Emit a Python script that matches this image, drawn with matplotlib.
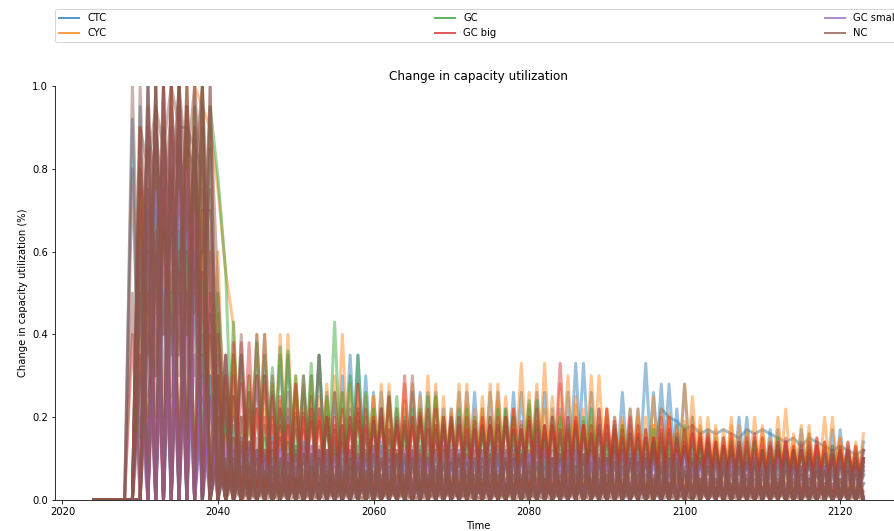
import matplotlib.pyplot as plt
from matplotlib.lines import Line2D
import numpy as np

YEARS = np.arange(2024, 2124)

# yearly change in capacity utilization, one list per run (2024 ... 2123)
CTC = [
    [0, 0, 0, 0, 0, .92, 0, 1.0, 0, .70,
     0, .85, 0, .60, 0, .45, 0, .35, 0, .35,
     0, .30, 0, .26, 0, .35, 0, .26, 0, .35,
     0, .26, 0, .35, 0, .30, 0, .26, 0, .22,
     0, .26, 0, .26, 0, .22, 0, .26, 0, .26,
     0, .26, 0, .22, 0, .26, 0, .26, 0, .22,
     0, .26, 0, .33, 0, .22, 0, .20, 0, .22,
     0, .33, 0, .28, 0, .22, 0, .20, 0, .17,
     0, .15, 0, .20, 0, .15, 0, .17, 0, .14,
     0, .17, 0, .13, 0, .17, 0, .12, 0, .14],
    [0, 0, 0, 0, 0, 0, .95, 0, .80, 0,
     1.0, 0, .70, 0, .55, 0, .35, 0, .35, 0,
     .26, 0, .30, 0, .35, 0, .26, 0, .30, 0,
     .26, 0, .30, 0, .35, 0, .26, 0, .26, 0,
     .22, 0, .26, 0, .26, 0, .22, 0, .26, 0,
     .22, 0, .26, 0, .26, 0, .22, 0, .26, 0,
     .22, 0, .33, 0, .26, 0, .20, 0, .26, 0,
     .22, 0, .26, 0, .28, 0, .28, 0, .17, 0,
     .15, 0, .14, 0, .20, 0, .13, 0, .17, 0,
     .12, 0, .16, 0, .13, 0, .17, 0, .12, 0],
    [0, 0, 0, 0, 0, 0, 0, .60, 0, .90,
     0, .70, 0, .80, 0, .30, 0, .20, 0, .15,
     0, .12, 0, .15, 0, .10, 0, .14, 0, .12,
     0, .15, 0, .12, 0, .10, 0, .14, 0, .11,
     0, .12, 0, .10, 0, .15, 0, .12, 0, .10,
     0, .14, 0, .10, 0, .12, 0, .15, 0, .10,
     0, .12, 0, .15, 0, .10, 0, .13, 0, .12,
     0, .10, 0, .14, 0, .12, 0, .10, 0, .13,
     0, .10, 0, .12, 0, .09, 0, .11, 0, .10,
     0, .12, 0, .08, 0, .10, 0, .11, 0, .09],
    [0, 0, 0, 0, 0, 0, .50, 0, 1.0, 0,
     .75, 0, .95, 0, .40, 0, .25, 0, .18, 0,
     .14, 0, .10, 0, .15, 0, .12, 0, .10, 0,
     .12, 0, .14, 0, .10, 0, .13, 0, .11, 0,
     .10, 0, .13, 0, .12, 0, .10, 0, .14, 0,
     .12, 0, .10, 0, .13, 0, .11, 0, .12, 0,
     .10, 0, .12, 0, .14, 0, .10, 0, .12, 0,
     .11, 0, .13, 0, .10, 0, .12, 0, .09, 0,
     .10, 0, .11, 0, .09, 0, .12, 0, .10, 0,
     .09, 0, .10, 0, .08, 0, .11, 0, .09, 0],
    [0, 0, 0, 0, 0, 0, .35, 0, .65, 0,
     .55, 0, .80, 0, .25, 0, .14, 0, .10, 0,
     .09, 0, .11, 0, .08, 0, .10, 0, .09, 0,
     .10, 0, .08, 0, .09, 0, .11, 0, .08, 0,
     .09, 0, .10, 0, .08, 0, .09, 0, .10, 0,
     .08, 0, .09, 0, .10, 0, .08, 0, .09, 0,
     .10, 0, .08, 0, .09, 0, .10, 0, .08, 0,
     .09, 0, .10, .22, .20, .19, .17, .18, .16, .17,
     .16, .17, .16, .15, .17, .16, .17, .16, .15, .14,
     .15, .13, .15, .14, .13, .12, .13, .12, .11, .12],
    [0, 0, 0, 0, 0, 0, 0, .75, 0, .55,
     0, .95, 0, .50, 0, .25, 0, .22, 0, .20,
     0, .22, 0, .18, 0, .20, 0, .17, 0, .22,
     0, .18, 0, .20, 0, .17, 0, .19, 0, .18,
     0, .20, 0, .17, 0, .19, 0, .18, 0, .17,
     0, .18, 0, .20, 0, .17, 0, .19, 0, .18,
     0, .17, 0, .19, 0, .18, 0, .16, 0, .18,
     0, .17, 0, .15, 0, .18, 0, .16, 0, .14,
     0, .13, 0, .15, 0, .14, 0, .12, 0, .13,
     0, .12, 0, .14, 0, .11, 0, .13, 0, .12],
]

CYC = [
    [0, 0, 0, 0, 0, 0, .70, 0, .90, 0,
     1.0, 0, .95, 0, .90, 0, .60, 0, .35, 0,
     .30, 0, .40, 0, .40, 0, .28, 0, .30, 0,
     .28, 0, .40, 0, .28, 0, .25, 0, .28, 0,
     .28, 0, .25, 0, .28, 0, .22, 0, .28, 0,
     .25, 0, .28, 0, .22, 0, .26, 0, .33, 0,
     .28, 0, .25, 0, .30, 0, .22, 0, .20, 0,
     .22, 0, .25, 0, .20, 0, .28, 0, .20, 0,
     .18, 0, .20, 0, .17, 0, .18, 0, .20, 0,
     .16, 0, .18, 0, .20, 0, .15, 0, .14, 0],
    [0, 0, 0, 0, 0, 0, 0, .85, 0, 1.0,
     0, .90, 0, 1.0, .95, .90, .75, .55, .42, 0,
     0, .40, 0, .28, 0, .40, 0, .28, 0, .25,
     0, .30, 0, .28, 0, .25, 0, .28, 0, .22,
     0, .28, 0, .30, 0, .25, 0, .28, 0, .22,
     0, .28, 0, .25, 0, .33, 0, .28, 0, .25,
     0, .30, 0, .22, 0, .30, 0, .20, 0, .22,
     0, .20, 0, .22, 0, .18, 0, .25, 0, .20,
     0, .17, 0, .18, 0, .20, 0, .15, 0, .22,
     0, .18, 0, .15, 0, .20, 0, .14, 0, .16],
    [0, 0, 0, 0, 0, 0, .40, 0, .80, 0,
     .60, 0, 1.0, 0, .70, 0, .30, 0, .25, 0,
     .20, 0, .22, 0, .18, 0, .20, 0, .22, 0,
     .20, 0, .18, 0, .22, 0, .20, 0, .18, 0,
     .18, 0, .20, 0, .17, 0, .20, 0, .18, 0,
     .20, 0, .17, 0, .20, 0, .18, 0, .17, 0,
     .17, 0, .20, 0, .18, 0, .16, 0, .18, 0,
     .16, 0, .18, 0, .15, 0, .17, 0, .15, 0,
     .14, 0, .15, 0, .13, 0, .15, 0, .14, 0,
     .13, 0, .12, 0, .14, 0, .12, 0, .11, 0],
    [0, 0, 0, 0, 0, 0, 0, .50, 0, .75,
     0, 1.0, 0, .85, 0, .40, 0, .28, 0, .20,
     0, .22, 0, .20, 0, .18, 0, .22, 0, .20,
     0, .18, 0, .20, 0, .17, 0, .20, 0, .18,
     0, .20, 0, .18, 0, .20, 0, .17, 0, .20,
     0, .18, 0, .20, 0, .17, 0, .19, 0, .16,
     0, .17, 0, .18, 0, .20, 0, .16, 0, .17,
     0, .16, 0, .15, 0, .17, 0, .20, 0, .15,
     0, .14, 0, .13, 0, .15, 0, .13, 0, .14,
     0, .12, 0, .13, 0, .11, 0, .12, 0, .10],
    [0, 0, 0, 0, 0, 0, .90, 0, .60, 0,
     .80, 0, .55, 0, 1.0, 0, .45, 0, .30, 0,
     .26, 0, .28, 0, .24, 0, .30, 0, .26, 0,
     .24, 0, .26, 0, .22, 0, .25, 0, .22, 0,
     .24, 0, .22, 0, .25, 0, .21, 0, .23, 0,
     .22, 0, .24, 0, .21, 0, .23, 0, .22, 0,
     .21, 0, .23, 0, .20, 0, .22, 0, .19, 0,
     .20, 0, .18, 0, .21, 0, .19, 0, .18, 0,
     .17, 0, .18, 0, .16, 0, .17, 0, .15, 0,
     .15, 0, .16, 0, .14, 0, .15, 0, .13, 0],
]

GC = [
    [0, 0, 0, 0, 0, 0, .80, 0, 1.0, 0,
     .85, 0, .90, 0, 1.0, 0, .50, 0, .43, 0,
     .30, 0, .35, 0, .37, 0, .30, 0, .33, 0,
     .25, 0, .26, 0, .35, 0, .22, 0, .25, 0,
     .20, 0, .22, 0, .25, 0, .20, 0, .22, 0,
     .18, 0, .22, 0, .20, 0, .24, 0, .18, 0,
     .20, 0, .18, 0, .22, 0, .15, 0, .18, 0,
     .15, 0, .17, 0, .14, 0, .18, 0, .13, 0,
     .12, 0, .14, 0, .13, 0, .12, 0, .15, 0,
     .12, 0, .13, 0, .11, 0, .12, 0, .10, 0],
    [0, 0, 0, 0, 0, 0, 0, .70, 0, .90,
     0, 1.0, 0, .95, 0, .95, .78, .55, 0, .35,
     0, .38, 0, .32, 0, .36, 0, .30, 0, .35,
     0, .43, 0, .30, 0, .26, 0, .22, 0, .25,
     0, .22, 0, .25, 0, .20, 0, .22, 0, .20,
     0, .20, 0, .22, 0, .18, 0, .24, 0, .20,
     0, .18, 0, .20, 0, .16, 0, .18, 0, .15,
     0, .14, 0, .16, 0, .15, 0, .13, 0, .14,
     0, .13, 0, .12, 0, .14, 0, .11, 0, .12,
     0, .12, 0, .10, 0, .13, 0, .11, 0, .10],
    [0, 0, 0, 0, 0, 0, .55, 0, .70, 0,
     .90, 0, .60, 0, .35, 0, .20, 0, .15, 0,
     .12, 0, .15, 0, .10, 0, .13, 0, .11, 0,
     .10, 0, .12, 0, .14, 0, .10, 0, .12, 0,
     .11, 0, .10, 0, .12, 0, .09, 0, .11, 0,
     .10, 0, .12, 0, .10, 0, .11, 0, .09, 0,
     .11, 0, .09, 0, .12, 0, .10, 0, .10, 0,
     .09, 0, .11, 0, .10, 0, .08, 0, .10, 0,
     .08, 0, .10, 0, .09, 0, .08, 0, .09, 0,
     .08, 0, .09, 0, .07, 0, .08, 0, .07, 0],
    [0, 0, 0, 0, 0, 0, 0, .45, 0, .80,
     0, .65, 0, .90, 0, .30, 0, .18, 0, .13,
     0, .12, 0, .10, 0, .14, 0, .11, 0, .10,
     0, .13, 0, .10, 0, .12, 0, .10, 0, .11,
     0, .10, 0, .12, 0, .09, 0, .11, 0, .10,
     0, .11, 0, .10, 0, .12, 0, .09, 0, .10,
     0, .10, 0, .11, 0, .09, 0, .10, 0, .09,
     0, .10, 0, .08, 0, .10, 0, .09, 0, .08,
     0, .09, 0, .08, 0, .10, 0, .08, 0, .09,
     0, .07, 0, .08, 0, .07, 0, .08, 0, .07],
    [0, 0, 0, 0, 0, 0, .65, 0, .85, 0,
     .50, 0, .75, 0, .60, 0, .30, 0, .25, 0,
     .20, 0, .18, 0, .22, 0, .17, 0, .20, 0,
     .18, 0, .16, 0, .19, 0, .17, 0, .15, 0,
     .17, 0, .15, 0, .18, 0, .16, 0, .15, 0,
     .16, 0, .15, 0, .17, 0, .14, 0, .16, 0,
     .15, 0, .14, 0, .16, 0, .13, 0, .14, 0,
     .13, 0, .14, 0, .12, 0, .13, 0, .12, 0,
     .11, 0, .12, 0, .10, 0, .11, 0, .12, 0,
     .10, 0, .11, 0, .09, 0, .10, 0, .09, 0],
]

GC_BIG = [
    [0, 0, 0, 0, 0, 0, .90, 0, 1.0, 0,
     .80, 0, .95, 0, .70, 0, .40, 0, .38, 0,
     .38, 0, .30, 0, .25, 0, .28, 0, .22, 0,
     .20, 0, .22, 0, .28, 0, .20, 0, .25, 0,
     .30, 0, .20, 0, .22, 0, .18, 0, .20, 0,
     .20, 0, .18, 0, .22, 0, .20, 0, .18, 0,
     .33, 0, .20, 0, .18, 0, .22, 0, .15, 0,
     .18, 0, .15, 0, .20, 0, .17, 0, .15, 0,
     .14, 0, .16, 0, .12, 0, .15, 0, .13, 0,
     .12, 0, .14, 0, .11, 0, .13, 0, .10, 0],
    [0, 0, 0, 0, 0, 0, 0, .95, 0, .85,
     0, 1.0, 0, .80, 0, .60, 0, .35, 0, .38,
     0, .30, 0, .25, 0, .22, 0, .20, 0, .22,
     0, .20, 0, .18, 0, .22, 0, .20, 0, .18,
     0, .20, 0, .22, 0, .18, 0, .20, 0, .17,
     0, .18, 0, .20, 0, .17, 0, .22, 0, .20,
     0, .20, 0, .18, 0, .22, 0, .17, 0, .20,
     0, .17, 0, .20, 0, .15, 0, .18, 0, .16,
     0, .15, 0, .13, 0, .16, 0, .14, 0, .15,
     0, .13, 0, .15, 0, .12, 0, .14, 0, .10],
    [0, 0, 0, 0, 0, 0, .35, 0, .60, 0,
     .90, 0, .50, 0, .30, 0, .20, 0, .15, 0,
     .14, 0, .12, 0, .15, 0, .11, 0, .13, 0,
     .12, 0, .14, 0, .11, 0, .13, 0, .12, 0,
     .13, 0, .11, 0, .14, 0, .12, 0, .11, 0,
     .12, 0, .13, 0, .11, 0, .12, 0, .13, 0,
     .11, 0, .13, 0, .12, 0, .10, 0, .12, 0,
     .10, 0, .12, 0, .11, 0, .13, 0, .10, 0,
     .10, 0, .11, 0, .09, 0, .10, 0, .11, 0,
     .09, 0, .10, 0, .08, 0, .09, 0, .08, 0],
    [0, 0, 0, 0, 0, 0, 0, .50, 0, .75,
     0, .95, 0, .70, 0, .25, 0, .16, 0, .14,
     0, .12, 0, .14, 0, .11, 0, .13, 0, .12,
     0, .11, 0, .13, 0, .12, 0, .10, 0, .12,
     0, .12, 0, .10, 0, .13, 0, .11, 0, .12,
     0, .10, 0, .12, 0, .11, 0, .13, 0, .10,
     0, .12, 0, .10, 0, .11, 0, .12, 0, .10,
     0, .11, 0, .10, 0, .12, 0, .09, 0, .11,
     0, .09, 0, .11, 0, .10, 0, .09, 0, .10,
     0, .08, 0, .09, 0, .10, 0, .08, 0, .09],
    [0, 0, 0, 0, 0, 0, .75, 0, .45, 0,
     1.0, 0, .80, 0, .55, 0, .30, 0, .25, 0,
     .22, 0, .20, 0, .18, 0, .21, 0, .19, 0,
     .20, 0, .18, 0, .21, 0, .19, 0, .17, 0,
     .19, 0, .21, 0, .18, 0, .20, 0, .17, 0,
     .18, 0, .20, 0, .17, 0, .19, 0, .18, 0,
     .17, 0, .19, 0, .16, 0, .18, 0, .17, 0,
     .16, 0, .15, 0, .17, 0, .14, 0, .16, 0,
     .14, 0, .13, 0, .15, 0, .12, 0, .14, 0,
     .13, 0, .12, 0, .14, 0, .12, 0, .13, 0],
    [0, 0, 0, 0, 0, .40, 0, .70, 0, 1.0,
     0, .55, 0, .65, 0, .50, 0, .30, 0, .28,
     0, .22, 0, .20, 0, .18, 0, .21, 0, .19,
     0, .17, 0, .20, 0, .18, 0, .22, 0, .19,
     0, .18, 0, .17, 0, .20, 0, .18, 0, .19,
     0, .20, 0, .18, 0, .19, 0, .17, 0, .18,
     0, .16, 0, .18, 0, .17, 0, .19, 0, .16,
     0, .15, 0, .17, 0, .14, 0, .16, 0, .15,
     0, .13, 0, .14, 0, .12, 0, .13, 0, .14,
     0, .12, 0, .13, 0, .11, 0, .12, 0, .12],
]

GC_SMALL = [
    [0, 0, 0, 0, 0, 0, .60, 0, .90, 0,
     .70, 0, .50, 0, .30, 0, .15, 0, .13, 0,
     .12, 0, .10, 0, .12, 0, .09, 0, .11, 0,
     .10, 0, .09, 0, .11, 0, .10, 0, .08, 0,
     .09, 0, .10, 0, .08, 0, .09, 0, .10, 0,
     .08, 0, .10, 0, .09, 0, .11, 0, .08, 0,
     .09, 0, .08, 0, .10, 0, .09, 0, .08, 0,
     .08, 0, .09, 0, .07, 0, .09, 0, .08, 0,
     .07, 0, .08, 0, .07, 0, .08, 0, .07, 0,
     .07, 0, .06, 0, .08, 0, .06, 0, .07, 0],
    [0, 0, 0, 0, 0, 0, 0, .40, 0, 1.0,
     0, .80, 0, .60, 0, .25, 0, .14, 0, .12,
     0, .11, 0, .09, 0, .10, 0, .12, 0, .09,
     0, .10, 0, .08, 0, .11, 0, .09, 0, .10,
     0, .08, 0, .10, 0, .09, 0, .08, 0, .10,
     0, .09, 0, .08, 0, .10, 0, .09, 0, .08,
     0, .10, 0, .09, 0, .08, 0, .10, 0, .09,
     0, .08, 0, .07, 0, .09, 0, .08, 0, .07,
     0, .07, 0, .08, 0, .06, 0, .07, 0, .08,
     0, .06, 0, .07, 0, .06, 0, .07, 0, .06],
    [0, 0, 0, 0, 0, 0, .30, 0, .50, 0,
     .90, 0, .40, 0, .20, 0, .10, 0, .09, 0,
     .07, 0, .08, 0, .06, 0, .08, 0, .07, 0,
     .06, 0, .07, 0, .08, 0, .06, 0, .07, 0,
     .07, 0, .06, 0, .07, 0, .08, 0, .06, 0,
     .06, 0, .07, 0, .06, 0, .07, 0, .06, 0,
     .07, 0, .06, 0, .08, 0, .06, 0, .07, 0,
     .06, 0, .05, 0, .06, 0, .07, 0, .05, 0,
     .05, 0, .06, 0, .05, 0, .06, 0, .05, 0,
     .05, 0, .04, 0, .05, 0, .04, 0, .05, 0],
    [0, 0, 0, 0, 0, 0, 0, .70, 0, .50,
     0, 1.0, 0, .35, 0, .15, 0, .10, 0, .08,
     0, .07, 0, .06, 0, .07, 0, .05, 0, .06,
     0, .06, 0, .05, 0, .07, 0, .06, 0, .05,
     0, .05, 0, .06, 0, .05, 0, .07, 0, .06,
     0, .06, 0, .05, 0, .06, 0, .05, 0, .06,
     0, .05, 0, .07, 0, .05, 0, .06, 0, .05,
     0, .06, 0, .05, 0, .04, 0, .06, 0, .05,
     0, .04, 0, .05, 0, .04, 0, .05, 0, .04,
     0, .05, 0, .04, 0, .04, 0, .05, 0, .04],
    [0, 0, 0, 0, 0, 0, 0, .85, 0, .60,
     0, .50, 0, .70, 0, .30, 0, .12, 0, .10,
     0, .12, 0, .10, 0, .11, 0, .09, 0, .12,
     0, .10, 0, .11, 0, .09, 0, .12, 0, .10,
     0, .11, 0, .09, 0, .10, 0, .12, 0, .09,
     0, .10, 0, .12, 0, .09, 0, .11, 0, .10,
     0, .09, 0, .11, 0, .10, 0, .09, 0, .11,
     0, .10, 0, .09, 0, .11, 0, .08, 0, .10,
     0, .09, 0, .08, 0, .10, 0, .09, 0, .08,
     0, .08, 0, .09, 0, .07, 0, .08, 0, .08],
    [0, 0, 0, 0, 0, 0, .20, 0, .75, 0,
     .45, 0, .80, 0, .35, 0, .15, 0, .12, 0,
     .13, 0, .11, 0, .12, 0, .10, 0, .13, 0,
     .11, 0, .12, 0, .10, 0, .12, 0, .11, 0,
     .12, 0, .10, 0, .11, 0, .13, 0, .10, 0,
     .11, 0, .12, 0, .10, 0, .11, 0, .12, 0,
     .10, 0, .12, 0, .11, 0, .10, 0, .11, 0,
     .11, 0, .09, 0, .10, 0, .11, 0, .09, 0,
     .09, 0, .10, 0, .09, 0, .08, 0, .10, 0,
     .08, 0, .09, 0, .08, 0, .09, 0, .07, 0],
]

NC = [
    [0, 0, 0, 0, 0, 1.0, .30, 1.0, .45, 1.0,
     .25, 1.0, .40, .90, .30, 1.0, 0, .35, 0, .40,
     0, .40, 0, .30, 0, .26, 0, .30, 0, .35,
     0, .26, 0, .22, 0, .20, 0, .22, 0, .20,
     0, .30, 0, .20, 0, .18, 0, .20, 0, .17,
     0, .18, 0, .20, 0, .16, 0, .18, 0, .15,
     0, .20, 0, .15, 0, .18, 0, .14, 0, .16,
     0, .15, 0, .13, 0, .16, 0, .14, 0, .12,
     0, .12, 0, .14, 0, .11, 0, .13, 0, .12,
     0, .14, 0, .11, 0, .13, 0, .12, 0, .10],
    [0, 0, 0, 0, 0, 0, 1.0, .35, 1.0, .20,
     1.0, .45, 1.0, .30, 1.0, 0, .30, 0, .20, 0,
     .14, 0, .12, 0, .10, 0, .13, 0, .11, 0,
     .12, 0, .10, 0, .13, 0, .11, 0, .10, 0,
     .11, 0, .12, 0, .10, 0, .12, 0, .09, 0,
     .10, 0, .11, 0, .12, 0, .09, 0, .11, 0,
     .12, 0, .10, 0, .09, 0, .11, 0, .10, 0,
     .09, 0, .11, 0, .10, 0, .08, 0, .10, 0,
     .09, 0, .08, 0, .10, 0, .09, 0, .08, 0,
     .08, 0, .09, 0, .07, 0, .08, 0, .08, 0],
    [0, 0, 0, 0, 0, 0, .50, .90, .75, .80,
     .70, 1.0, .80, 1.0, .70, .70, .40, .20, 0, .12,
     0, .10, 0, .08, 0, .09, 0, .07, 0, .10,
     0, .08, 0, .09, 0, .07, 0, .10, 0, .08,
     0, .09, 0, .07, 0, .08, 0, .10, 0, .07,
     0, .08, 0, .10, 0, .07, 0, .09, 0, .08,
     0, .07, 0, .09, 0, .08, 0, .07, 0, .09,
     0, .08, 0, .07, 0, .09, 0, .07, 0, .08,
     0, .07, 0, .08, 0, .06, 0, .07, 0, .08,
     0, .06, 0, .07, 0, .08, 0, .06, 0, .07],
    [0, 0, 0, 0, 0, 0, .80, .60, .90, .70,
     .95, .75, .85, .80, 1.0, .50, .15, 0, .10, 0,
     .08, 0, .06, 0, .07, 0, .05, 0, .08, 0,
     .06, 0, .07, 0, .05, 0, .08, 0, .06, 0,
     .07, 0, .05, 0, .08, 0, .06, 0, .07, 0,
     .05, 0, .07, 0, .06, 0, .08, 0, .05, 0,
     .07, 0, .06, 0, .05, 0, .07, 0, .06, 0,
     .06, 0, .05, 0, .07, 0, .06, 0, .05, 0,
     .05, 0, .06, 0, .05, 0, .06, 0, .05, 0,
     .06, 0, .05, 0, .06, 0, .05, 0, .06, 0],
    [0, 0, 0, 0, 0, 0, 0, .60, 0, .70,
     0, .50, 0, .90, 0, .40, 0, .10, 0, .08,
     0, .05, 0, .04, 0, .06, 0, .05, 0, .04,
     0, .05, 0, .06, 0, .04, 0, .05, 0, .06,
     0, .04, 0, .05, 0, .06, 0, .04, 0, .05,
     0, .06, 0, .04, 0, .05, 0, .06, 0, .04,
     0, .05, 0, .06, 0, .04, 0, .05, 0, .04,
     0, .04, 0, .05, 0, .06, 0, .04, 0, .05,
     0, .05, 0, .04, 0, .05, 0, .04, 0, .05,
     0, .04, 0, .05, 0, .04, 0, .05, 0, .04],
    [0, 0, 0, 0, 0, 0, .50, 0, .65, 0,
     .80, 0, .60, 0, .75, 0, .12, 0, .07, 0,
     .03, 0, .04, 0, .03, 0, .05, 0, .03, 0,
     .04, 0, .03, 0, .05, 0, .03, 0, .04, 0,
     .03, 0, .04, 0, .03, 0, .04, 0, .03, 0,
     .04, 0, .03, 0, .04, 0, .03, 0, .05, 0,
     .03, 0, .04, 0, .03, 0, .04, 0, .03, 0,
     .04, 0, .03, 0, .04, 0, .02, 0, .04, 0,
     .03, 0, .04, 0, .03, 0, .03, 0, .04, 0,
     .02, 0, .03, 0, .04, 0, .03, 0, .02, 0],
    [0, 0, 0, 0, 0, .80, .15, 1.0, .30, .70,
     .40, .95, .20, 1.0, .35, .85, 0, .25, 0, .15,
     0, .10, 0, .12, 0, .09, 0, .11, 0, .10,
     0, .12, 0, .10, 0, .11, 0, .09, 0, .12,
     0, .10, 0, .11, 0, .12, 0, .10, 0, .09,
     0, .11, 0, .09, 0, .10, 0, .12, 0, .10,
     0, .09, 0, .11, 0, .10, 0, .09, 0, .11,
     0, .10, 0, .09, 0, .08, 0, .10, 0, .09,
     0, .08, 0, .09, 0, .08, 0, .09, 0, .07,
     0, .08, 0, .07, 0, .09, 0, .07, 0, .08],
    [0, 0, 0, 0, 0, 0, .90, .80, .95, .85,
     1.0, .90, .90, .85, .80, .60, .20, 0, .12, 0,
     .09, 0, .07, 0, .10, 0, .08, 0, .06, 0,
     .08, 0, .06, 0, .09, 0, .07, 0, .08, 0,
     .06, 0, .08, 0, .07, 0, .09, 0, .06, 0,
     .08, 0, .06, 0, .09, 0, .07, 0, .08, 0,
     .06, 0, .08, 0, .07, 0, .06, 0, .08, 0,
     .07, 0, .06, 0, .08, 0, .07, 0, .06, 0,
     .06, 0, .07, 0, .06, 0, .07, 0, .06, 0,
     .05, 0, .06, 0, .07, 0, .05, 0, .06, 0],
    [0, 0, 0, 0, 0, .50, 0, .85, .20, 1.0,
     .35, .60, .15, .95, 0, 1.0, 0, .30, 0, .20,
     0, .15, 0, .12, 0, .14, 0, .11, 0, .13,
     0, .14, 0, .12, 0, .15, 0, .13, 0, .11,
     0, .13, 0, .14, 0, .12, 0, .11, 0, .13,
     0, .12, 0, .13, 0, .11, 0, .14, 0, .12,
     0, .13, 0, .11, 0, .12, 0, .13, 0, .10,
     0, .11, 0, .12, 0, .10, 0, .11, 0, .12,
     0, .10, 0, .11, 0, .09, 0, .10, 0, .11,
     0, .09, 0, .10, 0, .11, 0, .09, 0, .10],
    [0, 0, 0, 0, 0, 0, .70, .25, .95, .40,
     .65, .30, 1.0, .50, .95, 0, .40, 0, .30, 0,
     .26, 0, .40, 0, .22, 0, .20, 0, .25, 0,
     .20, 0, .18, 0, .22, 0, .19, 0, .17, 0,
     .18, 0, .20, 0, .17, 0, .19, 0, .16, 0,
     .17, 0, .18, 0, .16, 0, .18, 0, .15, 0,
     .16, 0, .17, 0, .15, 0, .16, 0, .14, 0,
     .15, 0, .14, 0, .16, 0, .13, 0, .14, 0,
     .13, 0, .12, 0, .14, 0, .12, 0, .13, 0,
     .12, 0, .11, 0, .12, 0, .10, 0, .11, 0],
    [0, 0, 0, 0, 0, 0, .30, .20, .55, .40,
     .70, .35, .50, .45, .90, 0, .10, 0, .04, 0,
     .02, 0, .03, 0, .02, 0, .01, 0, .02, 0,
     .03, 0, .02, 0, .01, 0, .02, 0, .03, 0,
     .02, 0, .01, 0, .02, 0, .03, 0, .02, 0,
     .01, 0, .02, 0, .03, 0, .02, 0, .01, 0,
     .02, 0, .03, 0, .02, 0, .01, 0, .02, 0,
     .03, 0, .02, 0, .01, 0, .02, 0, .03, 0,
     .02, 0, .01, 0, .02, 0, .03, 0, .02, 0,
     .01, 0, .02, 0, .03, 0, .02, 0, .01, 0],
    [0, 0, 0, 0, 0, 0, 0, .40, .30, .65,
     .50, .85, .40, .55, .60, .75, 0, .08, 0, .03,
     0, .02, 0, .01, 0, .03, 0, .02, 0, .01,
     0, .02, 0, .03, 0, .01, 0, .02, 0, .03,
     0, .01, 0, .02, 0, .03, 0, .02, 0, .01,
     0, .03, 0, .02, 0, .01, 0, .02, 0, .03,
     0, .02, 0, .01, 0, .03, 0, .02, 0, .02,
     0, .01, 0, .03, 0, .02, 0, .01, 0, .02,
     0, .03, 0, .02, 0, .01, 0, .02, 0, .03,
     0, .02, 0, .01, 0, .02, 0, .03, 0, .02],
    [0, 0, 0, 0, 0, 0, 0, .75, .55, .90,
     .70, 1.0, .65, .80, .60, .95, .50, .20, 0, .09,
     0, .07, 0, .08, 0, .06, 0, .09, 0, .07,
     0, .06, 0, .08, 0, .07, 0, .06, 0, .09,
     0, .08, 0, .06, 0, .09, 0, .07, 0, .06,
     0, .07, 0, .09, 0, .06, 0, .08, 0, .07,
     0, .08, 0, .07, 0, .06, 0, .09, 0, .07,
     0, .06, 0, .08, 0, .07, 0, .06, 0, .08,
     0, .07, 0, .06, 0, .08, 0, .06, 0, .07,
     0, .06, 0, .07, 0, .06, 0, .08, 0, .06],
    [0, 0, 0, 0, 0, 0, .60, .45, .85, .60,
     .70, .50, .95, .70, 1.0, .40, .25, 0, .08, 0,
     .05, 0, .07, 0, .04, 0, .06, 0, .08, 0,
     .07, 0, .05, 0, .08, 0, .06, 0, .04, 0,
     .05, 0, .07, 0, .06, 0, .04, 0, .07, 0,
     .06, 0, .04, 0, .07, 0, .05, 0, .06, 0,
     .04, 0, .06, 0, .05, 0, .07, 0, .05, 0,
     .06, 0, .05, 0, .04, 0, .06, 0, .05, 0,
     .05, 0, .04, 0, .06, 0, .05, 0, .04, 0,
     .04, 0, .05, 0, .04, 0, .05, 0, .04, 0],
]

LABELS = ["CTC", "CYC", "GC", "GC big", "GC small", "NC"]
COLORS = ["tab:blue", "tab:orange", "tab:green", "tab:red", "tab:purple",
          "tab:brown"]
GROUPS = [CTC, CYC, GC, GC_BIG, GC_SMALL, NC]


def main():
    fig = plt.figure(figsize=(894 / 72, 531 / 72), dpi=72)
    ax = fig.add_axes([55 / 894, 31 / 531, 847 / 894, 414 / 531])

    for runs, color in zip(GROUPS, COLORS):
        for run in runs:
            ax.plot(YEARS, run, color=color, alpha=0.45, linewidth=3)

    ax.set_ylim(0, 1)
    ax.set_title("Change in capacity utilization")
    ax.set_xlabel("Time")
    ax.set_ylabel("Change in capacity utilization (%)")
    ax.spines[["top", "right"]].set_visible(False)

    handles = [Line2D([], [], color=c, alpha=0.75, linewidth=2)
               for c in COLORS]
    ax.legend(handles, LABELS, loc="lower left", ncol=3, mode="expand",
              bbox_to_anchor=(0, 1.106, 1, 0.1), borderaxespad=0)

    fig.savefig("out.png", dpi=72)


if __name__ == "__main__":
    main()
